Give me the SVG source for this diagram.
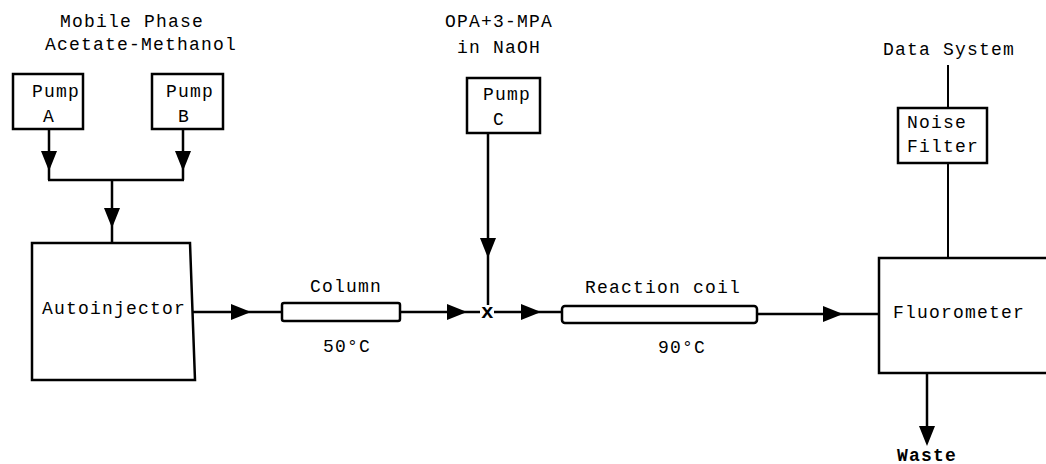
<svg xmlns="http://www.w3.org/2000/svg" xmlns:xlink="http://www.w3.org/1999/xlink" width="1046" height="464" viewBox="0 0 1046 464">
<style>
  .box { fill: #fff; stroke: #000; stroke-width: 2.5; }
  .ln { fill: none; stroke: #000; stroke-width: 2.5; }
  .thin { fill: none; stroke: #000; stroke-width: 2; }
  text { font-family: "Liberation Mono", "DejaVu Sans Mono", monospace; font-size: 18px; letter-spacing: 1.2px; fill: #000; }
  .b { font-weight: bold; }
  .mark { font-size: 21px; font-weight: bold; letter-spacing: 0; }
</style>
<defs>
  <path id="ah" d="M0,0 L-20,-8 L-20,8 Z" fill="#000"/>
</defs>
<rect width="1046" height="464" fill="#fff"/>

<g id="labels">
  <text x="60" y="27">Mobile Phase</text>
  <text x="45" y="50">Acetate-Methanol</text>
  <text x="445" y="27">OPA+3-MPA</text>
  <text x="457" y="53">in NaOH</text>
  <text x="883" y="55">Data System</text>
  <text x="897" y="461" class="b">Waste</text>
</g>

<g id="connectors">
  <path class="ln" d="M49,129 V180 M183,129 V180 M48,180 H184 M112,180 V243"/>
  <path class="ln" d="M193,312 H282 M400,312 H480 M494,312 H562"/>
  <path class="ln" d="M488,133 V305"/>
  <path class="ln" d="M757,314 H879"/>
  <path class="thin" d="M948,65 V108 M948,163 V258"/>
  <path class="ln" d="M927,373 V438"/>
  <use xlink:href="#ah" transform="translate(49,171) rotate(90)"/>
  <use xlink:href="#ah" transform="translate(183,171) rotate(90)"/>
  <use xlink:href="#ah" transform="translate(112,228) rotate(90)"/>
  <use xlink:href="#ah" transform="translate(251,312)"/>
  <use xlink:href="#ah" transform="translate(467,312)"/>
  <use xlink:href="#ah" transform="translate(488,258) rotate(90)"/>
  <use xlink:href="#ah" transform="translate(541,312)"/>
  <use xlink:href="#ah" transform="translate(843,314)"/>
  <use xlink:href="#ah" transform="translate(927,446) rotate(90)"/>
  <text class="mark" x="481" y="318">x</text>
</g>

<g id="pumpA">
  <rect class="box" x="13" y="74" width="70" height="55"/>
  <text x="32" y="97">Pump</text>
  <text x="43" y="122">A</text>
</g>
<g id="pumpB">
  <rect class="box" x="152" y="74" width="71" height="55"/>
  <text x="166" y="97">Pump</text>
  <text x="178" y="122">B</text>
</g>
<g id="pumpC">
  <rect class="box" x="467" y="78" width="73" height="55"/>
  <text x="483" y="100">Pump</text>
  <text x="493" y="125">C</text>
</g>
<g id="autoinjector">
  <polygon class="box" points="32,243 190,243 195,380 32,380"/>
  <text x="42" y="314">Autoinjector</text>
</g>
<g id="column">
  <rect class="box" x="282" y="303" width="118" height="18" rx="2"/>
  <text x="310" y="292">Column</text>
  <text x="323" y="352">50°C</text>
</g>
<g id="reactionCoil">
  <rect class="box" x="562" y="306" width="195" height="17" rx="3"/>
  <text x="585" y="293">Reaction coil</text>
  <text x="658" y="353">90°C</text>
</g>
<g id="noiseFilter">
  <rect class="box" x="898" y="108" width="89" height="55"/>
  <text x="907" y="128">Noise</text>
  <text x="907" y="152">Filter</text>
</g>
<g id="fluorometer">
  <rect class="box" x="879" y="258" width="180" height="115"/>
  <text x="893" y="318">Fluorometer</text>
</g>
</svg>
